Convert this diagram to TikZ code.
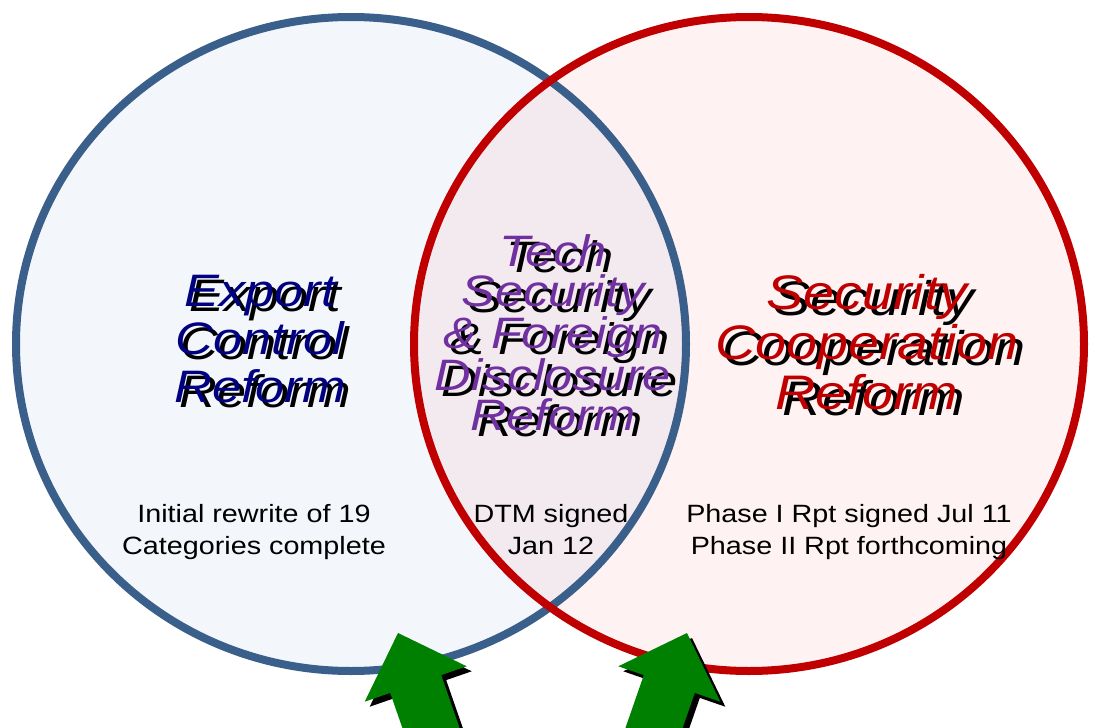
\documentclass[tikz,border=0pt]{standalone}
\usepackage{fontspec}
\setmainfont{Liberation Sans}[FakeStretch=1.15]
\definecolor{lfill}{HTML}{F3F6FB}
\definecolor{rfill}{HTML}{FFF2F2}
\definecolor{ifill}{HTML}{F3EAF0}
\definecolor{lline}{HTML}{3A5F8B}
\definecolor{rline}{HTML}{C00000}
\definecolor{navy}{HTML}{000080}
\definecolor{purp}{HTML}{7030A0}
\definecolor{agreen}{HTML}{008000}
\tikzset{
  ttl/.style={inner sep=0pt, align=center, font=\itshape},
  note/.style={inner sep=0pt, align=center, font=\fontsize{25}{32}\selectfont},
}
\begin{document}
\begin{tikzpicture}[x=1pt,y=-1pt]
\useasboundingbox (0,0) rectangle (1096,728);
\clip (0,0) rectangle (1096,728);
% circles
\fill[lfill] (351,344) ellipse [x radius=335, y radius=327];
\fill[rfill] (749,344) ellipse [x radius=335, y radius=327];
\begin{scope}
  \clip (351,344) ellipse [x radius=335, y radius=327];
  \fill[ifill] (749,344) ellipse [x radius=335, y radius=327];
\end{scope}
\draw[lline, line width=8] (351,344) ellipse [x radius=335, y radius=327];
\draw[rline, line width=8] (749,344) ellipse [x radius=335, y radius=327];
% titles
\node[ttl, black, font=\itshape\fontsize{45.5}{48}\selectfont] (ecrS) at (265,344) {Export\\Control\\Reform};
\node[ttl, navy, font=\itshape\fontsize{45.5}{48}\selectfont] (ecr) at (260,339) {Export\\Control\\Reform};
\node[ttl, black, font=\itshape\fontsize{44}{40}\selectfont] (tsS) at (560,338.5) {Tech\\Security\\\& Foreign\\Disclosure\\Reform};
\node[ttl, purp, font=\itshape\fontsize{44}{40}\selectfont] (ts) at (553,333) {Tech\\Security\\\& Foreign\\Disclosure\\Reform};
\node[ttl, black, font=\itshape\fontsize{48.5}{50}\selectfont] (scrS) at (874,348.5) {Security\\Cooperation\\Reform};
\node[ttl, rline, font=\itshape\fontsize{48.5}{50}\selectfont] (scr) at (867,342.5) {Security\\Cooperation\\Reform};
% notes
\node[note] (n1) at (254,532.5) {Initial rewrite of 19\\Categories complete};
\node[note] (n2) at (551,530) {DTM signed\\Jan 12};
\node[note] (n3) at (849,532.5) {Phase I Rpt signed Jul 11\\Phase II Rpt forthcoming};
% arrows
\begin{scope}[shift={(5,5)}]
  \fill[black] (398,633) -- (466.7,666.3) -- (441.2,675.1) -- (469.4,756.3) -- (418.4,774.1) -- (390.2,692.9) -- (364.7,701.7) -- cycle;
  \fill[black] (687,633) -- (618.3,666.3) -- (643.8,675.1) -- (615.6,756.3) -- (666.6,774.1) -- (694.8,692.9) -- (720.3,701.7) -- cycle;
\end{scope}
\fill[agreen] (398,633) -- (466.7,666.3) -- (441.2,675.1) -- (469.4,756.3) -- (418.4,774.1) -- (390.2,692.9) -- (364.7,701.7) -- cycle;
\fill[agreen] (687,633) -- (618.3,666.3) -- (643.8,675.1) -- (615.6,756.3) -- (666.6,774.1) -- (694.8,692.9) -- (720.3,701.7) -- cycle;
\end{tikzpicture}
\end{document}
